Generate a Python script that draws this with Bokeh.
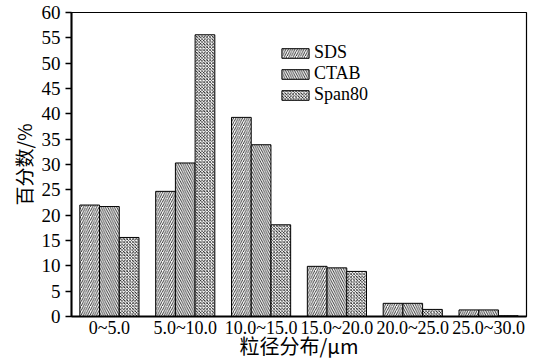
from bokeh.plotting import figure
from bokeh.models import ColumnDataSource, FactorRange, Range1d, FixedTicker, Legend, LegendItem
from bokeh.transform import dodge
from bokeh.embed import file_html
from bokeh.resources import INLINE

categories = ["0~5.0", "5.0~10.0", "10.0~15.0", "15.0~20.0", "20.0~25.0", "25.0~30.0"]
sds = [22.0, 24.7, 39.3, 9.9, 2.6, 1.3]
ctab = [21.7, 30.3, 33.9, 9.6, 2.6, 1.3]
span80 = [15.6, 55.6, 18.1, 8.9, 1.4, 0.15]
y_ticks = [0, 5, 10, 15, 20, 25, 30, 35, 40, 45, 50, 55, 60]

src = ColumnDataSource(dict(cat=categories, sds=sds, ctab=ctab, span80=span80))

p = figure(width=539, height=363, x_range=FactorRange(*categories, range_padding=0),
           y_range=Range1d(0, 60), output_backend="svg", toolbar_location=None,
           min_border_left=71, min_border_right=13, min_border_top=12, min_border_bottom=47)

w = 0.26
common = dict(width=w, source=src, fill_color="white", line_color="black", line_width=1,
              hatch_color="black", hatch_scale=4.5, hatch_weight=0.8)
r1 = p.vbar(x=dodge("cat", -w, range=p.x_range), top="sds", hatch_pattern="/", **common)
r2 = p.vbar(x=dodge("cat", 0, range=p.x_range), top="ctab", hatch_pattern="\\", **common)
r3 = p.vbar(x=dodge("cat", w, range=p.x_range), top="span80", hatch_pattern="x",
            **{**common, "hatch_scale": 3.2})

legend = Legend(items=[LegendItem(label="SDS", renderers=[r1]),
                       LegendItem(label="CTAB", renderers=[r2]),
                       LegendItem(label="Span80", renderers=[r3])],
                location=(207, 211), padding=0, spacing=0, glyph_width=34, glyph_height=12,
                label_height=12, label_standoff=2, border_line_color=None,
                background_fill_alpha=0, label_text_font="Liberation Serif",
                label_text_font_size="18px", label_text_color="black", margin=0)
p.add_layout(legend)

p.grid.visible = False
p.outline_line_color = "black"
p.outline_line_width = 1.2

p.yaxis.ticker = FixedTicker(ticks=y_ticks)
p.yaxis.major_tick_out = 6
p.yaxis.major_tick_in = 0
p.yaxis.minor_tick_line_color = None
p.yaxis.axis_line_width = 2
p.yaxis.major_tick_line_width = 1.5
p.yaxis.major_label_text_font = "Liberation Serif"
p.yaxis.major_label_text_font_size = "19px"
p.yaxis.major_label_text_color = "black"
p.yaxis.axis_label = "百分数/%"
p.yaxis.axis_label_text_font = "Noto Sans CJK SC"
p.yaxis.axis_label_text_font_style = "normal"
p.yaxis.axis_label_text_font_size = "19px"
p.yaxis.axis_label_text_color = "black"
p.yaxis.axis_label_standoff = 2

p.xaxis.major_tick_line_color = None
p.xaxis.major_tick_out = 0
p.xaxis.major_tick_in = 0
p.xaxis.axis_line_width = 2
p.xaxis.major_label_text_font = "Liberation Serif"
p.xaxis.major_label_text_font_size = "18px"
p.xaxis.major_label_text_color = "black"
p.xaxis.major_label_standoff = 1
p.xaxis.axis_label = "粒径分布/μm"
p.xaxis.axis_label_text_font = "Noto Sans CJK SC"
p.xaxis.axis_label_text_font_style = "normal"
p.xaxis.axis_label_text_font_size = "20px"
p.xaxis.axis_label_text_color = "black"
p.xaxis.axis_label_standoff = -10

open("out.html", "w").write(file_html(p, INLINE))
